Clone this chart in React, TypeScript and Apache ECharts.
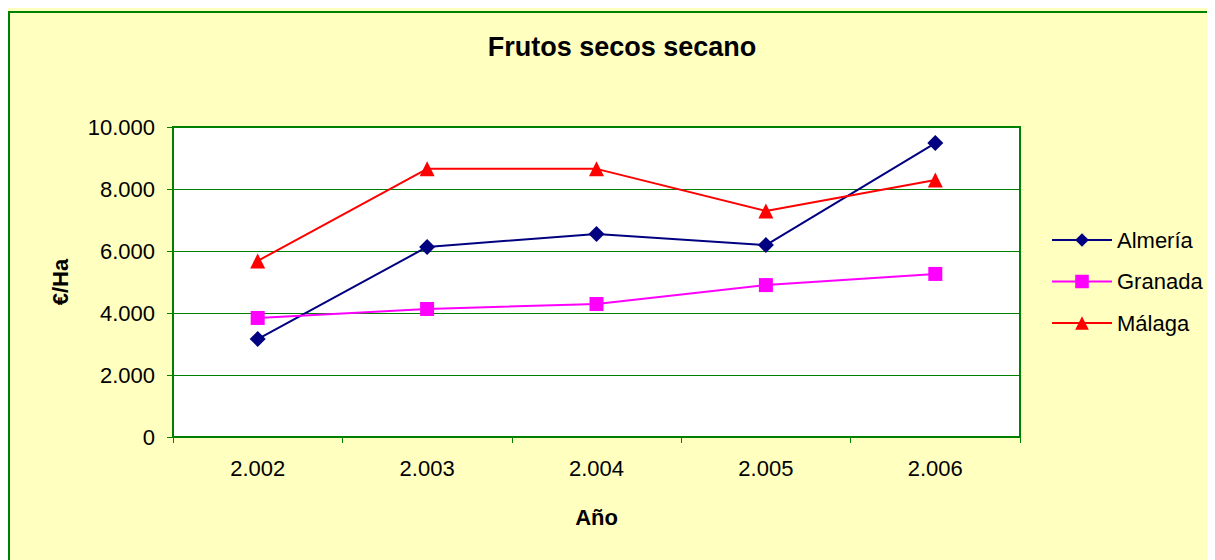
import React, { useEffect, useRef } from "react";
import * as echarts from "echarts";

const years = ["2.002", "2.003", "2.004", "2.005", "2.006"];
const almeria = [3160, 6130, 6550, 6190, 9480];
const granada = [3840, 4130, 4290, 4900, 5260];
const malaga = [5680, 8650, 8650, 7290, 8290];
const yTicks = [0, 2000, 4000, 6000, 8000, 10000];

const FONT = "Arial, 'Liberation Sans', sans-serif";

function fmt(v: number): string {
  if (v === 0) return "0";
  const s = String(Math.round(v));
  return s.replace(/\B(?=(\d{3})+(?!\d))/g, ".");
}

export default function App() {
  const ref = useRef<HTMLDivElement>(null);
  useEffect(() => {
    if (!ref.current) return;
    const chart = echarts.init(ref.current, undefined, { renderer: "svg" });
    chart.setOption({
      animation: false,
      backgroundColor: "#FFFFC0",
      textStyle: { fontFamily: FONT },
      title: {
        text: "Frutos secos secano",
        left: 609,
        top: 20,
        textAlign: "center",
        textStyle: { fontFamily: FONT, fontSize: 27, fontWeight: "bold", color: "#000" },
      },
      graphic: [
        {
          type: "rect",
          shape: { x: 1, y: 4, width: 1300, height: 700 },
          style: { fill: "none", stroke: "#008000", lineWidth: 2 },
          silent: true,
        },
      ],
      legend: {
        orient: "vertical",
        left: 1038,
        top: 216,
        itemWidth: 60,
        itemHeight: 17,
        itemGap: 19.5,
        textStyle: { fontFamily: FONT, fontSize: 22, color: "#000" },
        data: ["Almería", "Granada", "Málaga"],
      },
      grid: {
        left: 165,
        top: 119,
        right: 195,
        bottom: 123,
        show: true,
        backgroundColor: "#FFFFFF",
        borderColor: "#008000",
        borderWidth: 2,
      },
      xAxis: {
        type: "category",
        data: years,
        boundaryGap: true,
        name: "Año",
        nameLocation: "middle",
        nameGap: 69,
        nameTextStyle: { fontFamily: FONT, fontSize: 22, fontWeight: "bold", color: "#000" },
        axisLine: { lineStyle: { color: "#008000", width: 2 } },
        axisTick: { show: true, alignWithLabel: false, length: 6, lineStyle: { color: "#008000" } },
        axisLabel: { fontFamily: FONT, fontSize: 22, color: "#000", margin: 20 },
        splitLine: { show: false },
      },
      yAxis: {
        type: "value",
        min: 0,
        max: 10000,
        interval: 2000,
        name: "€/Ha",
        nameLocation: "middle",
        nameGap: 102,
        nameRotate: 90,
        nameTextStyle: { fontFamily: FONT, fontSize: 22, fontWeight: "bold", color: "#000" },
        axisLine: { show: true, lineStyle: { color: "#008000", width: 2 } },
        axisTick: { show: true, length: 6, lineStyle: { color: "#008000" } },
        axisLabel: {
          fontFamily: FONT,
          fontSize: 22,
          color: "#000",
          margin: 18,
          formatter: (v: number) => (yTicks.includes(v) ? fmt(v) : ""),
        },
        splitLine: { show: true, lineStyle: { color: "#008000", width: 1 } },
      },
      series: [
        {
          name: "Almería",
          type: "line",
          data: almeria,
          symbol: "diamond",
          symbolSize: 16,
          color: "#000080",
          lineStyle: { color: "#000080", width: 2 },
          itemStyle: { color: "#000080" },
        },
        {
          name: "Granada",
          type: "line",
          data: granada,
          symbol: "rect",
          symbolSize: 14,
          color: "#FF00FF",
          lineStyle: { color: "#FF00FF", width: 2 },
          itemStyle: { color: "#FF00FF" },
        },
        {
          name: "Málaga",
          type: "line",
          data: malaga,
          symbol: "triangle",
          symbolSize: 15,
          color: "#FF0000",
          lineStyle: { color: "#FF0000", width: 2 },
          itemStyle: { color: "#FF0000" },
        },
      ],
    });
    return () => chart.dispose();
  }, []);
  return <div ref={ref} style={{ width: 1207, height: 552 }} />;
}
